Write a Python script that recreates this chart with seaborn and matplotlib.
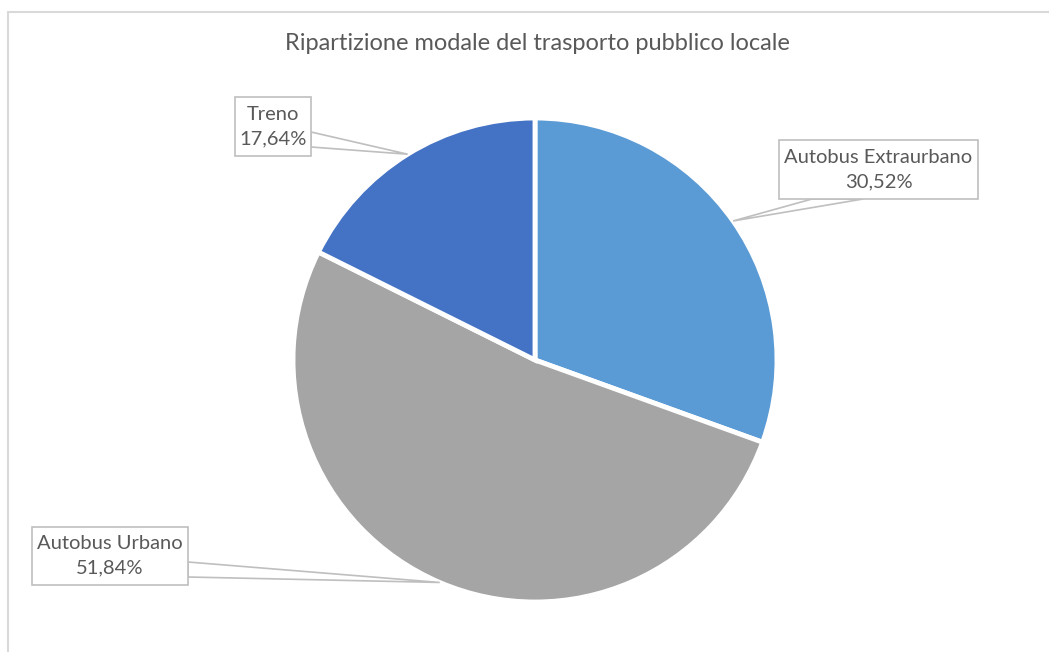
import matplotlib.pyplot as plt
import seaborn as sns
import numpy as np
from matplotlib.patches import Polygon, Rectangle

categorie = ['Autobus Extraurbano', 'Autobus Urbano', 'Treno']
quote = [30.52, 51.84, 17.64]
colori = ['#5B9BD5', '#A5A5A5', '#4472C4']
titolo = 'Ripartizione modale del trasporto pubblico locale'

sns.set_theme(style='white')
plt.rcParams['font.family'] = ['Lato', 'DejaVu Sans']

W, H = 1049, 652
fig = plt.figure(figsize=(W / 100, H / 100), dpi=100)
ax = fig.add_axes([0, 0, 1, 1])

def py(y):
    # pixel row from top -> data y
    return H - y

cx, cy, R = 535, py(360), 242
ax.pie(quote, colors=colori, startangle=90, counterclock=False,
       center=(cx, cy), radius=R, frame=True,
       wedgeprops=dict(edgecolor='white', linewidth=3.5))
ax.set_xlim(0, W)
ax.set_ylim(0, H)
ax.set_aspect('auto')
ax.axis('off')

# punti di ancoraggio: metà di ogni spicchio sul bordo
cum = np.cumsum([0] + quote[:-1])
mid = (cum + np.array(quote) / 2) / 100 * 2 * np.pi
anchors = [(cx + R * np.sin(a), cy + R * np.cos(a)) for a in mid]

# box etichette (x0, y_top, x1, y_bottom) e base del richiamo
boxes = [(779, 140, 978, 199), (32, 527, 188, 585), (235, 97, 311, 156)]
bases = [((812, 199), (863, 199)), ((188, 562), (188, 577)), ((311, 132), (311, 147))]

testo = '#595959'
grigio = '#BFBFBF'
for nome, q, (x0, y0, x1, y1), (b1, b2), (ax_, ay_) in zip(categorie, quote, boxes, bases, anchors):
    poly = Polygon([(b1[0], py(b1[1])), (ax_, ay_), (b2[0], py(b2[1]))],
                   closed=True, facecolor='white', edgecolor=grigio, linewidth=1.2, zorder=3)
    ax.add_patch(poly)
    rect = Rectangle((x0, py(y1)), x1 - x0, y1 - y0, facecolor='white',
                     edgecolor=grigio, linewidth=1.2, zorder=4)
    ax.add_patch(rect)
    lab = nome + '\n' + f'{q:.2f}'.replace('.', ',') + '%'
    ax.text((x0 + x1) / 2, py((y0 + y1) / 2), lab, ha='center', va='center',
            fontsize=14.5, color=testo, linespacing=1.55, zorder=5)

ax.text(537, py(44), titolo, ha='center', va='center', fontsize=17, color=testo)

# cornice dell'area grafico
ax.plot([8, W], [py(12), py(12)], color='#D9D9D9', linewidth=1.5, clip_on=False)
ax.plot([8, 8], [py(12), 0], color='#D9D9D9', linewidth=1.5, clip_on=False)

fig.savefig('out.png', dpi=100, facecolor='white')
